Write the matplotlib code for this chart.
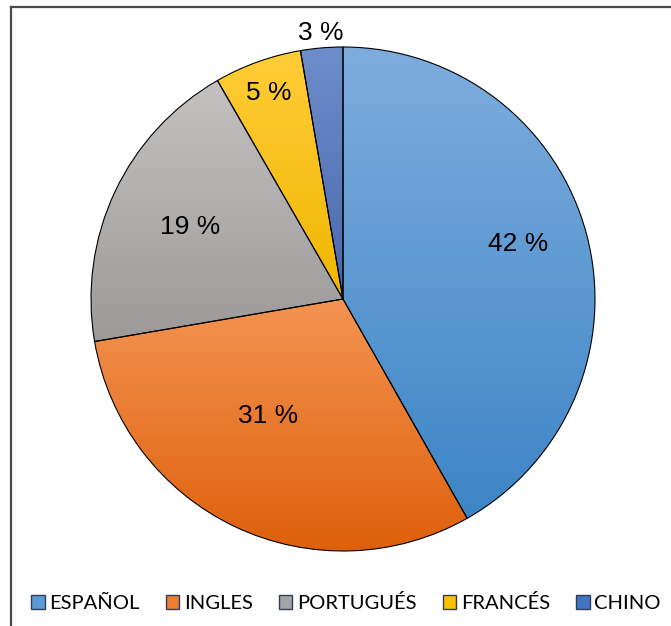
import numpy as np
import matplotlib.pyplot as plt
from matplotlib.colors import to_rgb
from matplotlib.patches import Patch
from matplotlib.lines import Line2D

# ── Data ──────────────────────────────────────────────────────────────────────
languages = ["ESPAÑOL", "INGLES", "PORTUGUÉS", "FRANCÉS", "CHINO"]
shares = [41.8, 30.5, 19.4, 5.6, 2.7]
pct_labels = ["42 %", "31 %", "19 %", "5 %", "3 %"]

# ── Styling ───────────────────────────────────────────────────────────────────
TOP_C = ["#7eaddd", "#f39452", "#c4c2c1", "#ffcd38", "#6e8dca"]
BOT_C = ["#3d85c7", "#df600b", "#9c9a99", "#f0b600", "#4868ad"]
MID_C = ["#5b9bd5", "#ed7d31", "#a5a5a5", "#ffc000", "#4472c4"]
LABEL_R = [0.73, 0.55, 0.67, 0.87, 1.06]
LABEL_DA = [2.6, -7.3, 0.0, 0.0, 0.0]   # small angular nudges (deg)
BORDER = "#4a4a4a"

W, H = 671, 626
fig = plt.figure(figsize=(W / 100, H / 100), dpi=100)

# pie centre ~ (343, 299) px, radius ~ 252 px
cx, cy, r = 343, 299, 252
ax = fig.add_axes([(cx - r) / W, (H - cy - r) / H, 2 * r / W, 2 * r / H])

wedges, _ = ax.pie(shares, startangle=90, counterclock=False, radius=1,
                   wedgeprops=dict(edgecolor="black", linewidth=0.8))

# gradient fill per slice (light top -> dark bottom), clipped to the wedge
for w, top, bot in zip(wedges, TOP_C, BOT_C):
    bb = w.get_path().get_extents()
    t = np.linspace(0, 1, 256)[:, None]
    grad = (1 - t) * np.array(to_rgb(top)) + t * np.array(to_rgb(bot))
    im = ax.imshow(grad[:, None, :], extent=(bb.x0, bb.x1, bb.y0, bb.y1),
                   origin="upper", aspect="auto", zorder=0.5,
                   interpolation="bilinear")
    im.set_clip_path(w)
    w.set_facecolor("none")
    w.set_zorder(1)

for w, lab, rr, da in zip(wedges, pct_labels, LABEL_R, LABEL_DA):
    ang = np.deg2rad((w.theta1 + w.theta2) / 2 + da)
    ax.text(rr * np.cos(ang), rr * np.sin(ang), lab, ha="center", va="center",
            fontsize=19, family="Liberation Sans", color="black", zorder=3)

ax.set_xlim(-1, 1)
ax.set_ylim(-1, 1)
ax.set_aspect("equal")
ax.axis("off")

# legend
handles = [Patch(facecolor=c, edgecolor="#2f3e55", linewidth=1.0) for c in MID_C]
fig.legend(handles, languages, loc="center", bbox_to_anchor=(346 / W, 1 - 603 / H),
           ncol=5, frameon=False, handlelength=0.66, handleheight=0.66,
           handletextpad=0.22, columnspacing=1.32, borderaxespad=0,
           borderpad=0, prop={"family": "Lato", "size": 14.5})

# chart-area border (left and top visible)
fig.add_artist(Line2D([11 / W, 11 / W], [0, 1 - 7 / H], color=BORDER, lw=1.6,
                      transform=fig.transFigure))
fig.add_artist(Line2D([11 / W, 1], [1 - 7 / H, 1 - 7 / H], color=BORDER, lw=1.6,
                      transform=fig.transFigure))

fig.savefig("out.png", dpi=100)
